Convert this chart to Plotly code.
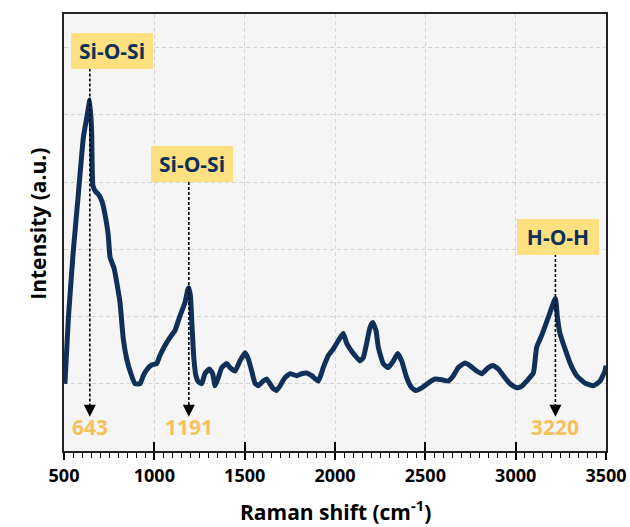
import plotly.graph_objects as go

# ---- data ----
wavenumber = [505, 524, 551, 579, 607, 626, 643, 653, 660, 675, 690, 712, 731, 745, 755, 777, 795, 810,
              828, 847, 869, 893, 921, 939, 961, 985, 1013, 1031, 1059, 1087, 1114, 1142, 1170, 1185,
              1191, 1200, 1208, 1218, 1230, 1243, 1262, 1280, 1304, 1323, 1336, 1354, 1373, 1401, 1419,
              1447, 1474, 1502, 1520, 1539, 1557, 1575, 1603, 1622, 1640, 1658, 1677, 1696, 1723, 1751,
              1788, 1816, 1843, 1871, 1908, 1935, 1963, 1991, 2018, 2046, 2065, 2083, 2111, 2138, 2157,
              2175, 2194, 2209, 2227, 2240, 2267, 2295, 2323, 2347, 2369, 2397, 2425, 2448, 2480, 2516,
              2553, 2591, 2627, 2655, 2682, 2719, 2747, 2784, 2812, 2849, 2876, 2904, 2932, 2969, 3006,
              3033, 3061, 3098, 3116, 3144, 3181, 3220, 3231, 3245, 3273, 3301, 3338, 3384, 3430, 3467,
              3494, 3500]
intensity = [0.0, 0.97, 1.96, 2.81, 3.66, 3.96, 4.22, 3.75, 2.95, 2.86, 2.82, 2.70, 2.46, 2.21, 1.88, 1.72,
             1.46, 1.21, 0.67, 0.37, 0.16, 0.0, 0.0, 0.12, 0.22, 0.28, 0.30, 0.42, 0.57, 0.69, 0.79, 1.01,
             1.21, 1.40, 1.43, 1.30, 0.90, 0.40, 0.12, 0.03, 0.0, 0.15, 0.22, 0.15, -0.03, 0.09, 0.24, 0.30,
             0.24, 0.19, 0.34, 0.46, 0.37, 0.19, 0.01, -0.03, 0.04, 0.07, 0.0, -0.07, -0.10, -0.03, 0.09,
             0.15, 0.12, 0.15, 0.16, 0.12, 0.04, 0.24, 0.42, 0.52, 0.64, 0.75, 0.60, 0.52, 0.42, 0.34, 0.39,
             0.60, 0.84, 0.91, 0.79, 0.54, 0.30, 0.24, 0.34, 0.45, 0.34, 0.09, -0.06, -0.10, -0.06, 0.01,
             0.07, 0.06, 0.04, 0.12, 0.24, 0.31, 0.27, 0.19, 0.15, 0.24, 0.27, 0.22, 0.12, 0.0, -0.06,
             -0.04, 0.04, 0.16, 0.54, 0.72, 0.99, 1.27, 0.99, 0.75, 0.52, 0.31, 0.12, 0.01, -0.03, 0.04,
             0.19, 0.27]

peak_pos = [643, 1191, 3220]
peak_names = ["Si-O-Si", "Si-O-Si", "H-O-H"]
peak_value_labels = ["643", "1191", "3220"]
label_box_x = [766, 1206, 3234]
label_box_y = [4.955, 3.27, 2.19]
line_top_y = [4.69, 3.0, 1.93]

x_ticks = [500, 1000, 1500, 2000, 2500, 3000, 3500]

NAVY = "#0f3058"
GOLD = "#f6c15a"
BOX = "#fde07f"
FONT = "Open Sans"

fig = go.Figure()
fig.add_trace(go.Scatter(x=wavenumber, y=intensity, mode="lines",
                         line=dict(color=NAVY, width=5, shape="spline", smoothing=0.4),
                         showlegend=False, hoverinfo="skip"))
# invisible trace to anchor second x axis (inside ticks)
fig.add_trace(go.Scatter(x=[x_ticks[0], x_ticks[-1]], y=[0, 0], xaxis="x2", mode="lines",
                         line=dict(width=0), opacity=0, showlegend=False, hoverinfo="skip"))

tip_y = -0.49
for px, name, vl, bx, by, ty in zip(peak_pos, peak_names, peak_value_labels, label_box_x, label_box_y, line_top_y):
    fig.add_shape(type="line", x0=px, x1=px, y0=ty, y1=tip_y + 0.1, xref="x", yref="y",
                  line=dict(color="black", width=1.6, dash="3px,2px"))
    fig.add_annotation(x=px, y=tip_y, xref="x", yref="y", text="", showarrow=True,
                       arrowhead=2, arrowsize=1.6, arrowwidth=1.5, arrowcolor="black", ax=0, ay=-10)
    fig.add_annotation(x=bx, y=by, xref="x", yref="y", text=f"<b>{name}</b>", showarrow=False,
                       bgcolor=BOX, borderwidth=0, borderpad=2, width=78, height=32,
                       font=dict(family=FONT, size=21, color=NAVY))
    fig.add_annotation(x=px, y=-0.64, xref="x", yref="y", text=f"<b>{vl}</b>", showarrow=False,
                       font=dict(family=FONT, size=21, color=GOLD))

fig.add_annotation(xref="paper", yref="paper", x=0, y=0.52, xshift=-42, textangle=-90,
                   text="<b>Intensity (a.u.)</b>", showarrow=False,
                   font=dict(family=FONT, size=21, color="black"))
fig.add_annotation(xref="paper", yref="paper", x=0.5, y=0, yshift=-42, yanchor="top",
                   text="<b>Raman shift (cm<sup>-1</sup>)</b>", showarrow=False,
                   font=dict(family=FONT, size=21, color="black"))

fig.update_layout(
    width=630, height=527,
    margin=dict(l=64, r=24, t=14, b=76, autoexpand=False),
    paper_bgcolor="white", plot_bgcolor="#f5f5f5",
    font=dict(family=FONT, color="black"),
    xaxis=dict(range=[500, 3500], tickmode="array", tickvals=x_ticks,
               ticktext=[f"<b>{t}</b>" for t in x_ticks], automargin=False,
               tickfont=dict(family=FONT, size=18, color="black"),
               ticks="outside", ticklen=7, tickwidth=2, tickcolor="black",
               minor=dict(dtick=50, tick0=500, ticks="outside", ticklen=5, tickwidth=1.3, tickcolor="black",
                          showgrid=False),
               showline=True, linecolor="#222", linewidth=2, mirror=True,
               showgrid=True, gridcolor="#d4d4d4", gridwidth=1, griddash="4px,3px",
               zeroline=False),
    xaxis2=dict(range=[500, 3500], overlaying="x", anchor="y", side="bottom", automargin=False,
                tickmode="array", tickvals=x_ticks, showticklabels=False,
                ticks="inside", ticklen=9, tickwidth=2, tickcolor="black",
                showline=False, showgrid=False, zeroline=False),
    yaxis=dict(range=[-1, 5.5], tick0=0, dtick=1, showticklabels=False, ticks="", automargin=False,
               showline=True, linecolor="#222", linewidth=2, mirror=True,
               showgrid=True, gridcolor="#d4d4d4", gridwidth=1, griddash="4px,3px",
               zeroline=False),
)

fig.write_html("out.html")
